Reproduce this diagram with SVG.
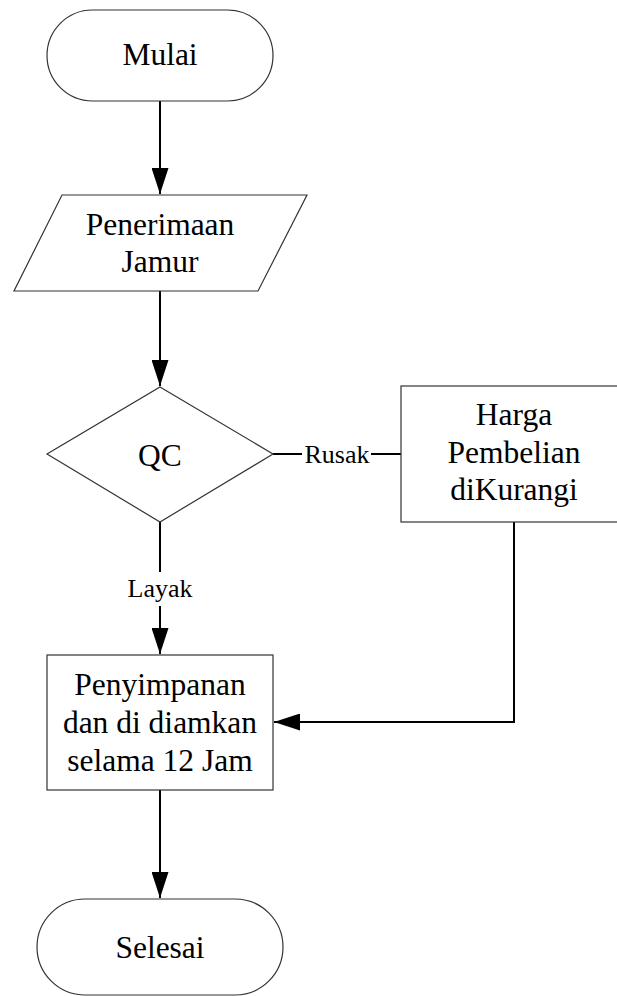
<svg xmlns="http://www.w3.org/2000/svg" width="617" height="996" viewBox="0 0 617 996">
  <style>
    .shape { fill: #ffffff; stroke: #333333; stroke-width: 1.2; }
    .txt { font-family: "Liberation Serif", "Times New Roman", serif; font-size: 31.5px; fill: #000000; text-anchor: middle; }
    .lbl { font-family: "Liberation Serif", "Times New Roman", serif; font-size: 26px; fill: #000000; text-anchor: middle; }
    .conn { fill: none; stroke: #000000; stroke-width: 2; }
  </style>
  <defs>
    <marker id="arrow" viewBox="0 0 26 17" refX="26" refY="8.5" markerWidth="26" markerHeight="17" markerUnits="userSpaceOnUse" orient="auto">
      <path d="M0,0 L26,8.5 L0,17 Z" fill="#000000"/>
    </marker>
  </defs>

  <rect width="617" height="996" fill="#ffffff"/>

  <!-- connectors -->
  <g id="connectors">
    <line class="conn" x1="160" y1="101" x2="160" y2="194" marker-end="url(#arrow)"/>
    <line class="conn" x1="160" y1="291" x2="160" y2="386" marker-end="url(#arrow)"/>
    <line class="conn" x1="273" y1="454" x2="302" y2="454"/>
    <line class="conn" x1="371" y1="454" x2="401" y2="454"/>
    <text class="lbl" x="337" y="463">Rusak</text>
    <line class="conn" x1="160" y1="522" x2="160" y2="572"/>
    <text class="lbl" x="160" y="597">Layak</text>
    <line class="conn" x1="160" y1="606" x2="160" y2="654" marker-end="url(#arrow)"/>
    <polyline class="conn" points="514,522 514,722 274,722" marker-end="url(#arrow)"/>
    <line class="conn" x1="160" y1="790" x2="160" y2="898" marker-end="url(#arrow)"/>
  </g>

  <!-- start -->
  <g id="mulai">
    <rect class="shape" x="47" y="10" width="226" height="91" rx="45.5" ry="45.5"/>
    <text class="txt" x="160" y="65">Mulai</text>
  </g>

  <!-- input -->
  <g id="penerimaan">
    <polygon class="shape" points="62,195 307,195 258,291 14,291"/>
    <text class="txt" x="160" y="235">Penerimaan</text>
    <text class="txt" x="160" y="272">Jamur</text>
  </g>

  <!-- decision -->
  <g id="qc">
    <polygon class="shape" points="160,387 273,454 160,522 47,454"/>
    <text class="txt" x="160" y="466">QC</text>
  </g>

  <!-- price reduction -->
  <g id="harga">
    <rect class="shape" x="401" y="386" width="226" height="136"/>
    <text class="txt" x="514" y="425">Harga</text>
    <text class="txt" x="514" y="463">Pembelian</text>
    <text class="txt" x="514" y="500">diKurangi</text>
  </g>

  <!-- storage -->
  <g id="penyimpanan">
    <rect class="shape" x="47" y="655" width="226" height="135"/>
    <text class="txt" x="160" y="695">Penyimpanan</text>
    <text class="txt" x="160" y="733">dan di diamkan</text>
    <text class="txt" x="160" y="771">selama 12 Jam</text>
  </g>

  <!-- end -->
  <g id="selesai">
    <rect class="shape" x="37" y="899" width="246" height="96" rx="48" ry="48"/>
    <text class="txt" x="160" y="958">Selesai</text>
  </g>
</svg>
